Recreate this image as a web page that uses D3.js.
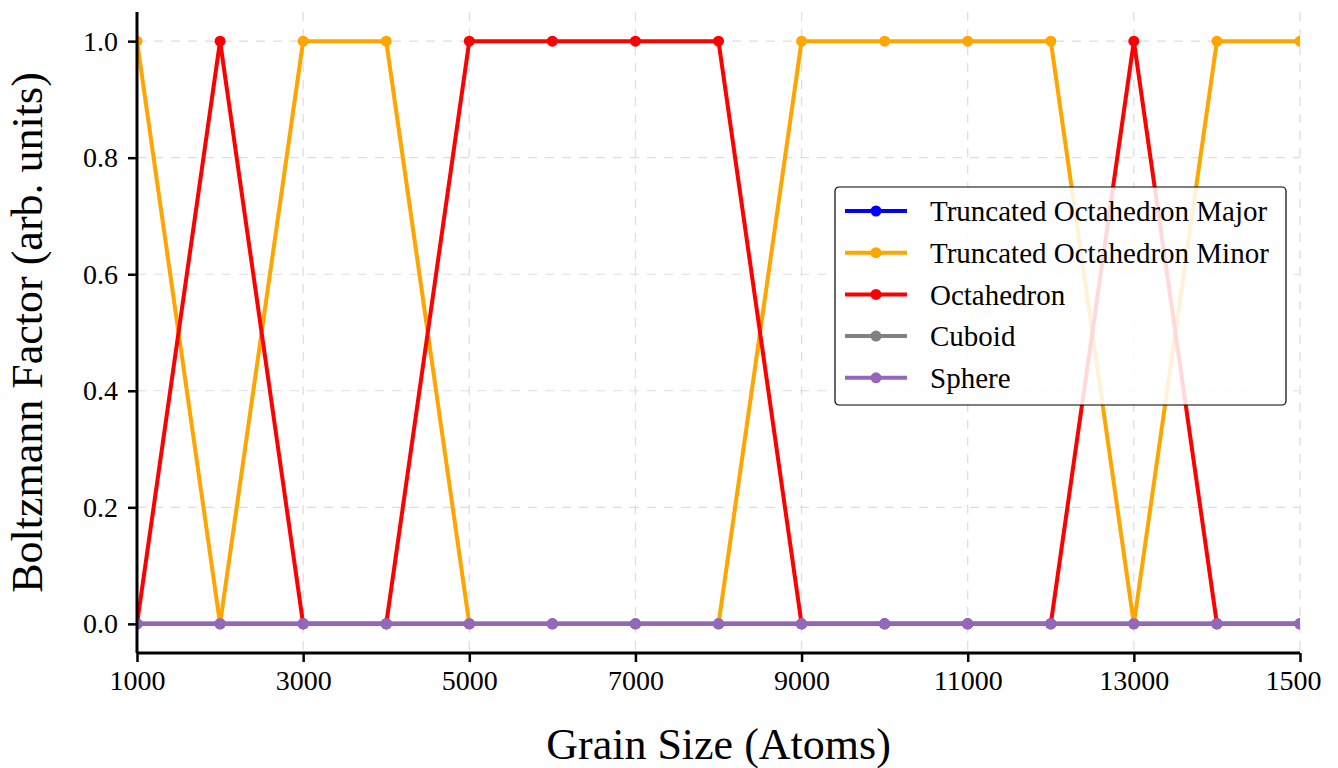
<!DOCTYPE html>
<html>
<head>
<meta charset="utf-8">
<script src="https://cdn.jsdelivr.net/npm/d3@7"></script>
<style>
  body { margin: 0; background: #fff; }
  text { font-family: "Liberation Serif", "Times New Roman", serif; }
</style>
</head>
<body>
<div id="chart"></div>
<script>
var grainSizes = [1000, 2000, 3000, 4000, 5000, 6000, 7000, 8000, 9000, 10000, 11000, 12000, 13000, 14000, 15000];
var truncMajor = [0, 0, 0, 0, 0, 0, 0, 0, 0, 0, 0, 0, 0, 0, 0];
var truncMinor = [1, 0, 1, 1, 0, 0, 0, 0, 1, 1, 1, 1, 0, 1, 1];
var octahedron = [0, 1, 0, 0, 1, 1, 1, 1, 0, 0, 0, 0, 1, 0, 0];
var cuboid = [0, 0, 0, 0, 0, 0, 0, 0, 0, 0, 0, 0, 0, 0, 0];
var sphere = [0, 0, 0, 0, 0, 0, 0, 0, 0, 0, 0, 0, 0, 0, 0];
var seriesNames = ["Truncated Octahedron Major", "Truncated Octahedron Minor", "Octahedron", "Cuboid", "Sphere"];
var seriesColors = ["#0000ff", "#ffa500", "#ff0000", "#808080", "#9467bd"];
var xTicks = [1000, 3000, 5000, 7000, 9000, 11000, 13000, 15000];
var yTicks = [0.0, 0.2, 0.4, 0.6, 0.8, 1.0];

var series = [truncMajor, truncMinor, octahedron, cuboid, sphere].map(function(vals, i) {
  return {name: seriesNames[i], color: seriesColors[i],
    values: vals.map(function(v, j) { return {x: grainSizes[j], y: v}; })};
});

var width = 1321, height = 768;
var m = {left: 137, right: 1300, top: 12, bottom: 653};

var svg = d3.select("#chart").append("svg")
  .attr("width", width)
  .attr("height", height);

var x = d3.scaleLinear().domain([1000, 15000]).range([m.left, m.right]);
var y = d3.scaleLinear().domain([-0.05, 1.05]).range([m.bottom, m.top]);

// grid
svg.append("g").selectAll("line").data(xTicks).enter().append("line")
  .attr("x1", function(d){return x(d);}).attr("x2", function(d){return x(d);})
  .attr("y1", m.top).attr("y2", m.bottom)
  .attr("stroke", "#dddddd").attr("stroke-width", 1.2).attr("stroke-dasharray", "9,8");
svg.append("g").selectAll("line").data(yTicks).enter().append("line")
  .attr("x1", m.left).attr("x2", m.right)
  .attr("y1", function(d){return y(d);}).attr("y2", function(d){return y(d);})
  .attr("stroke", "#dddddd").attr("stroke-width", 1.2).attr("stroke-dasharray", "9,8");

svg.append("clipPath").attr("id", "plotclip").append("rect")
  .attr("x", m.left).attr("y", m.top).attr("width", m.right - m.left).attr("height", m.bottom - m.top);

var line = d3.line().x(function(d){return x(d.x);}).y(function(d){return y(d.y);});

var plot = svg.append("g").attr("clip-path", "url(#plotclip)");
var groups = plot.selectAll(".series").data(series).enter().append("g").attr("class", "series");

groups.append("path")
  .attr("d", function(d){return line(d.values);})
  .attr("fill", "none")
  .attr("stroke", function(d){return d.color;})
  .attr("stroke-width", 4)
  .attr("stroke-linejoin", "round");

groups.selectAll("circle").data(function(d){return d.values.map(function(v){return {x: v.x, y: v.y, color: d.color};});})
  .enter().append("circle")
  .attr("cx", function(d){return x(d.x);})
  .attr("cy", function(d){return y(d.y);})
  .attr("r", 5.5)
  .attr("fill", function(d){return d.color;});

// axes
var xAxis = svg.append("g")
  .attr("transform", "translate(0," + m.bottom + ")")
  .call(d3.axisBottom(x).tickValues(xTicks).tickFormat(d3.format("d")).tickSize(9).tickPadding(8));
var yAxis = svg.append("g")
  .attr("transform", "translate(" + m.left + ",0)")
  .call(d3.axisLeft(y).tickValues(yTicks).tickFormat(d3.format(".1f")).tickSize(9).tickPadding(10));

[xAxis, yAxis].forEach(function(a) {
  a.attr("font-family", null).attr("font-size", null);
  a.select(".domain").attr("stroke", "#000").attr("stroke-width", 3);
  a.selectAll(".tick line").attr("stroke", "#000").attr("stroke-width", 2.5);
  a.selectAll(".tick text").attr("fill", "#000").style("font-size", "28px");
});
xAxis.select(".domain").attr("d", "M" + m.left + ",0H" + m.right);
yAxis.select(".domain").attr("d", "M0," + m.top + "V" + m.bottom);

// axis labels
svg.append("text")
  .attr("x", (m.left + m.right) / 2)
  .attr("y", 759)
  .attr("text-anchor", "middle")
  .style("font-size", "44px")
  .text("Grain Size (Atoms)");

svg.append("text")
  .attr("transform", "translate(42," + (m.top + m.bottom) / 2 + ") rotate(-90)")
  .attr("text-anchor", "middle")
  .style("font-size", "44px")
  .text("Boltzmann Factor (arb. units)");

// legend
var legend = svg.append("g").attr("transform", "translate(835,187)");
legend.append("rect")
  .attr("width", 451).attr("height", 218)
  .attr("rx", 4).attr("ry", 4)
  .attr("fill", "#fff").attr("fill-opacity", 0.85)
  .attr("stroke", "#000").attr("stroke-width", 1.2);

var items = legend.selectAll(".item").data(series).enter().append("g")
  .attr("class", "item")
  .attr("transform", function(d, i){return "translate(0," + (24 + i * 41.7) + ")";});
items.append("line")
  .attr("x1", 10).attr("x2", 72)
  .attr("stroke", function(d){return d.color;})
  .attr("stroke-width", 4);
items.append("circle")
  .attr("cx", 41).attr("r", 5.5)
  .attr("fill", function(d){return d.color;});
items.append("text")
  .attr("x", 95).attr("dy", "0.35em")
  .style("font-size", "29px")
  .text(function(d){return d.name;});
</script>
</body>
</html>
